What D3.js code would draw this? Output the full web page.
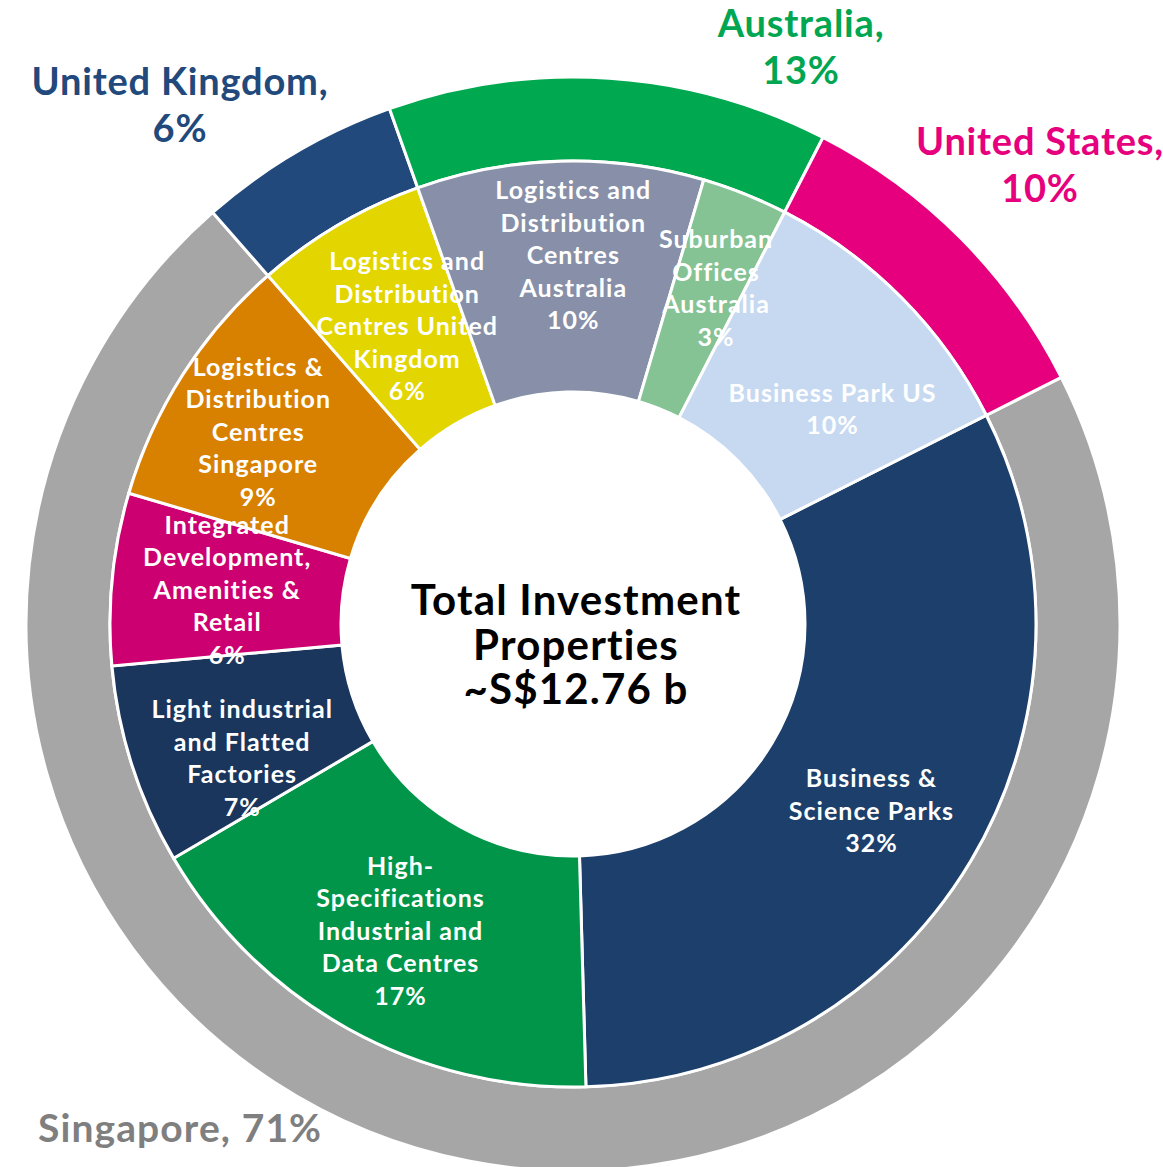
<!DOCTYPE html>
<html>
<head>
<meta charset="utf-8">
<script src="https://cdn.jsdelivr.net/npm/d3@7"></script>
<style>
  body { margin: 0; background: #fff; }
  text { font-family: Lato, "Liberation Sans", sans-serif; font-weight: 700; }
</style>
</head>
<body>
<svg id="chart" width="1163" height="1167"></svg>
<script>
// inner ring: asset types (percent of total investment properties)
const innerCategories = [
  "Business &\nScience Parks",
  "High-\nSpecifications\nIndustrial and\nData Centres",
  "Light industrial\nand Flatted\nFactories",
  "Integrated\nDevelopment,\nAmenities &\nRetail",
  "Logistics &\nDistribution\nCentres\nSingapore",
  "Logistics and\nDistribution\nCentres United\nKingdom",
  "Logistics and\nDistribution\nCentres\nAustralia",
  "Suburban\nOffices\nAustralia",
  "Business Park US"
];
const innerValues = [32, 17, 7, 6, 9, 6, 10, 3, 10];

// outer ring: geography
const outerCategories = ["Singapore", "United Kingdom", "Australia", "United States"];
const outerValues = [71, 6, 13, 10];

const centreTitle = ["Total Investment", "Properties", "~S$12.76 b"];

// colours
const innerColors = ["#1c3f6b", "#009548", "#1a365d", "#cc0070", "#d88000",
                     "#e2d500", "#8790a8", "#85c395", "#c6d9f1"];
const outerColors = ["#a6a6a6", "#22497c", "#00a84f", "#e6007e"];
const outerTextColors = ["#7f7f7f", "#22497c", "#00a651", "#e6007e"];

const svg = d3.select("#chart");
const cx = 573, cy = 624;
const rHole = 232, rMid = 463, rOuter = 547;
const startAngle = 63.2 * Math.PI / 180;

const g = svg.append("g").attr("transform", "translate(" + cx + "," + cy + ")");

const pie = d3.pie().sort(null).value(d => d.value)
  .startAngle(startAngle).endAngle(startAngle + 2 * Math.PI);

const innerData = pie(innerCategories.map((c, i) => ({ name: c, value: innerValues[i] })));
const outerData = pie(outerCategories.map((c, i) => ({ name: c, value: outerValues[i] })));

const innerArc = d3.arc().innerRadius(rHole).outerRadius(rMid);
const outerArc = d3.arc().innerRadius(rMid).outerRadius(rOuter);

g.selectAll("path.outer")
  .data(outerData)
  .enter().append("path")
  .attr("class", "outer")
  .attr("d", outerArc)
  .attr("fill", (d, i) => outerColors[i])
  .attr("stroke", "#fff")
  .attr("stroke-width", 3);

g.selectAll("path.inner")
  .data(innerData)
  .enter().append("path")
  .attr("class", "inner")
  .attr("d", innerArc)
  .attr("fill", (d, i) => innerColors[i])
  .attr("stroke", "#fff")
  .attr("stroke-width", 3);

// inner labels: centroid plus small hand nudges like the original
const nudge = [[0, 9], [-4, 3], [0, 28], [0, 0], [-22, -5], [10, 2], [10, -21], [14, -13], [13, 30]];
const innerLineH = 32.5;

g.selectAll("text.inner")
  .data(innerData)
  .enter().append("text")
  .attr("class", "inner")
  .attr("text-anchor", "middle")
  .attr("fill", "#fff")
  .attr("font-size", 25)
  .attr("letter-spacing", 1)
  .each(function (d, i) {
    const c = innerArc.centroid(d);
    const lines = d.data.name.split("\n").concat([d.data.value + "%"]);
    const x = c[0] + nudge[i][0];
    const y0 = c[1] + nudge[i][1] - (lines.length - 1) / 2 * innerLineH;
    const t = d3.select(this);
    lines.forEach((ln, k) => {
      t.append("tspan")
        .attr("x", x)
        .attr("y", y0 + k * innerLineH)
        .attr("dy", "0.35em")
        .text(ln);
    });
  });

// outer labels, placed by hand outside the ring
const outerPos = [[-535, 504, "start"], [-393, -519], [228, -577], [467, -459]];
const outerLineH = 46.5;

g.selectAll("text.outer")
  .data(outerData)
  .enter().append("text")
  .attr("class", "outer")
  .attr("fill", (d, i) => outerTextColors[i])
  .attr("font-size", (d, i) => i === 0 ? 39 : 38)
  .attr("letter-spacing", (d, i) => i === 0 ? 1.1 : 0.8)
  .attr("text-anchor", (d, i) => outerPos[i][2] || "middle")
  .each(function (d, i) {
    const t = d3.select(this);
    const lines = i === 0
      ? [d.data.name + ", " + d.data.value + "%"]
      : [d.data.name + ",", d.data.value + "%"];
    const y0 = outerPos[i][1] - (lines.length - 1) / 2 * outerLineH;
    lines.forEach((ln, k) => {
      t.append("tspan")
        .attr("x", outerPos[i][0])
        .attr("y", y0 + k * outerLineH)
        .attr("dy", "0.35em")
        .text(ln);
    });
  });

// centre title
const title = g.append("text")
  .attr("text-anchor", "middle")
  .attr("fill", "#000")
  .attr("font-size", 42)
  .attr("letter-spacing", 1.2);
centreTitle.forEach((ln, k) => {
  title.append("tspan")
    .attr("x", 3)
    .attr("y", 21 + (k - 1) * 44.5)
    .attr("dy", "0.35em")
    .text(ln);
});
</script>
</body>
</html>
